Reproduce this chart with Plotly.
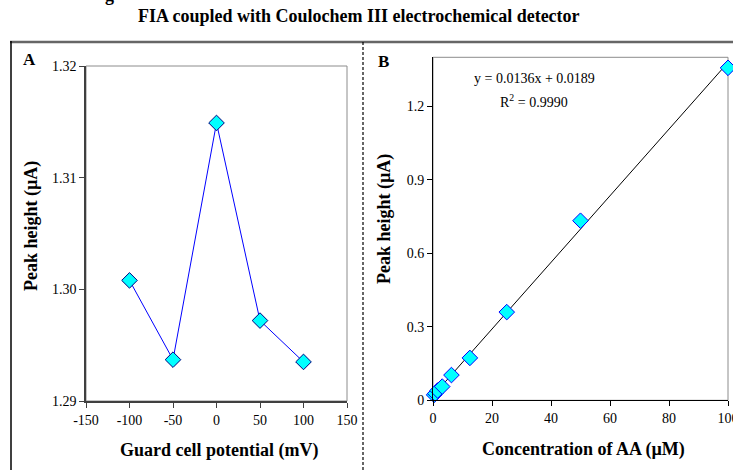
import plotly.graph_objects as go

# ---- Panel A data ----
guard_potential_mV = [-100, -50, 0, 50, 100]
peak_height_A = [1.3008, 1.2937, 1.3149, 1.2972, 1.2935]
xticks_A = [-150, -100, -50, 0, 50, 100, 150]
xtick_labels_A = ["-150", "-100", "-50", "0", "50", "100", "150"]
yticks_A = [1.29, 1.30, 1.31, 1.32]
ytick_labels_A = ["1.29", "1.30", "1.31", "1.32"]

# ---- Panel B data ----
conc_AA_uM = [0.39, 0.78, 1.56, 3.125, 6.25, 12.5, 25, 50, 100]
peak_height_B = [0.022, 0.028, 0.040, 0.056, 0.103, 0.173, 0.360, 0.733, 1.357]
fit_slope = 0.0136
fit_intercept = 0.0189
fit_x = [0, 100]
xticks_B = [0, 20, 40, 60, 80, 100]
yticks_B = [0, 0.3, 0.6, 0.9, 1.2]
ytick_labels_B = ["0", "0.3", "0.6", "0.9", "1.2"]

W, H = 733, 470
def px(x):
    return x / W
def py(y):
    return 1 - y / H

FONT = "Liberation Serif, Times New Roman, serif"

fig = go.Figure()

fig.add_trace(go.Scatter(
    x=guard_potential_mV, y=peak_height_A, mode="lines+markers",
    line=dict(color="#0000FF", width=1),
    marker=dict(symbol="diamond", size=12, color="#00FFFF",
                line=dict(color="#000080", width=1)),
    xaxis="x", yaxis="y", cliponaxis=False, showlegend=False))

fig.add_trace(go.Scatter(
    x=fit_x, y=[fit_slope * v + fit_intercept for v in fit_x], mode="lines",
    line=dict(color="black", width=1),
    xaxis="x2", yaxis="y2", showlegend=False))

fig.add_trace(go.Scatter(
    x=conc_AA_uM, y=peak_height_B, mode="markers",
    marker=dict(symbol="diamond", size=12, color="#00FFFF",
                line=dict(color="#0000FF", width=1)),
    xaxis="x2", yaxis="y2", cliponaxis=False, showlegend=False))

axis_common = dict(showgrid=False, zeroline=False, showline=True, automargin=False,
                   ticks="outside", ticklen=5, tickwidth=1, ticklabeloverflow="allow",
                   tickfont=dict(family=FONT, size=14, color="black"))

fig.update_layout(
    width=W, height=H,
    margin=dict(l=0, r=0, t=0, b=0, pad=0, autoexpand=False),
    paper_bgcolor="white", plot_bgcolor="white",
    font=dict(family=FONT, color="black"),
    xaxis=dict(domain=[px(86), px(347)], range=[-150, 150],
               tickvals=xticks_A, ticktext=xtick_labels_A, anchor="y",
               linecolor="#404040", linewidth=1.5, tickcolor="#404040", **axis_common),
    yaxis=dict(domain=[py(401), py(66)], range=[1.29, 1.32],
               tickvals=yticks_A, ticktext=ytick_labels_A, anchor="x",
               linecolor="#404040", linewidth=1.5, tickcolor="#404040", **axis_common),
    xaxis2=dict(domain=[px(433), px(728)], range=[0, 100],
                tickvals=xticks_B, anchor="y2",
                linecolor="black", linewidth=1, tickcolor="black", **axis_common),
    yaxis2=dict(domain=[py(400.3), py(57.3)], range=[0, 1.4],
                tickvals=yticks_B, ticktext=ytick_labels_B, anchor="x2",
                linecolor="black", linewidth=1, tickcolor="black", **axis_common),
)

# plot-area gray borders (top/right)
for xr, yr in [("x", "y"), ("x2", "y2")]:
    fig.add_shape(type="rect", xref=f"{xr} domain", yref=f"{yr} domain",
                  x0=0, x1=1, y0=0, y1=1, line=dict(color="#8c8c8c", width=1),
                  layer="below")

# outer frame lines
fig.add_shape(type="line", xref="paper", yref="paper", x0=px(10), x1=1,
              y0=py(42), y1=py(42), line=dict(color="#666666", width=2.5))
fig.add_shape(type="line", xref="paper", yref="paper", x0=px(11), x1=px(11),
              y0=py(41), y1=0, line=dict(color="black", width=1.5))
fig.add_shape(type="line", xref="paper", yref="paper", x0=px(363), x1=px(363),
              y0=py(42), y1=0, line=dict(color="black", width=1.2, dash="3px,2px"))

ann = []
ann.append(dict(text="<b>FIA coupled with Coulochem III electrochemical detector</b>",
                x=px(359), y=py(16), font=dict(size=18)))
ann.append(dict(text="<b>A</b>", x=px(29), y=py(60), font=dict(size=17)))
ann.append(dict(text="<b>B</b>", x=px(383), y=py(62), font=dict(size=17)))
ann.append(dict(text="<b>Peak height (µA)</b>", x=px(32), y=py(226), textangle=-90,
                font=dict(size=18)))
ann.append(dict(text="<b>Peak height (µA)</b>", x=px(385), y=py(219), textangle=-90,
                font=dict(size=18)))
ann.append(dict(text="<b>Guard cell potential (mV)</b>", x=px(219), y=py(450),
                font=dict(size=18)))
ann.append(dict(text="<b>Concentration of AA (µM)</b>", x=px(583), y=py(449),
                font=dict(size=18)))
ann.append(dict(text=f"y = {fit_slope}x + {fit_intercept}", x=px(534), y=py(79),
                font=dict(size=14)))
ann.append(dict(text="R<sup>2</sup> = 0.9990", x=px(534), y=py(101),
                font=dict(size=14)))
for a in ann:
    a.update(xref="paper", yref="paper", showarrow=False,
             xanchor="center", yanchor="middle")
    a["font"].update(family=FONT, color="black")
# descender of the cut-off caption above the figure
ann.append(dict(text="<b>g</b>", xref="paper", yref="paper", x=px(109), y=1,
                xanchor="center", yanchor="bottom", yshift=-7, showarrow=False,
                font=dict(family=FONT, size=18, color="black")))
fig.update_layout(annotations=ann)

fig.write_html("out.html", config={"displayModeBar": False},
               post_script="document.body.style.margin='0px';")
